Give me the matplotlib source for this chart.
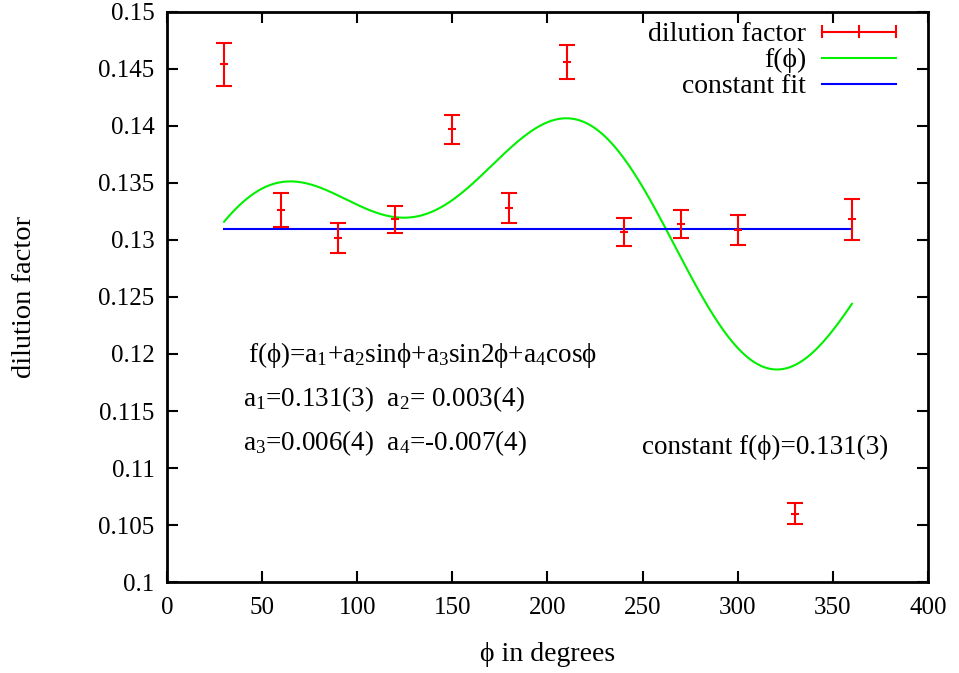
import numpy as np
import matplotlib
matplotlib.use("Agg")
import matplotlib.pyplot as plt
from matplotlib.lines import Line2D
from matplotlib.legend_handler import HandlerBase

plt.rcParams['font.family'] = ['Liberation Serif', 'DejaVu Serif']
plt.rcParams['mathtext.fontset'] = 'custom'
plt.rcParams['mathtext.rm'] = 'Liberation Serif'
plt.rcParams['mathtext.it'] = 'Liberation Serif:italic'

# measured dilution factor per azimuthal bin
phi_deg = [30, 60, 90, 120, 150, 180, 210, 240, 270, 300, 330, 360]
dilution = [0.1454, 0.1326, 0.1302, 0.1318, 0.1397, 0.1328,
            0.1456, 0.1307, 0.1314, 0.1309, 0.1060, 0.1318]
dilution_err = [0.0019, 0.0015, 0.0013, 0.0012, 0.0013, 0.0013,
                0.0015, 0.0012, 0.0012, 0.0013, 0.0009, 0.0018]

# fit parameters: f(phi) = a1 + a2 sin(phi) + a3 sin(2 phi) + a4 cos(phi)
a1, a2, a3, a4 = 0.1312, 0.0027, 0.0057, -0.0068
const_fit = 0.131

x_ticks = [0, 50, 100, 150, 200, 250, 300, 350, 400]
y_ticks = [0.1, 0.105, 0.11, 0.115, 0.12, 0.125, 0.13, 0.135, 0.14, 0.145, 0.15]
y_tick_labels = ['0.1', '0.105', '0.11', '0.115', '0.12', '0.125',
                 '0.13', '0.135', '0.14', '0.145', '0.15']

RED = '#ff0000'
GREEN = '#00f000'
BLUE = '#0000ff'

fig = plt.figure(figsize=(9.59, 6.73), dpi=100)
ax = fig.add_axes([0.1741, 0.1352, 0.9677 - 0.1741, 0.9822 - 0.1352])

ax.errorbar(phi_deg, dilution, yerr=dilution_err, fmt='none', ecolor=RED,
            elinewidth=1.5, capsize=6, capthick=1.5, zorder=3)
ax.plot(phi_deg, dilution, linestyle='none', marker='_', markersize=6,
        markeredgewidth=1.5, color=RED, zorder=3)

phi_fine = np.linspace(phi_deg[0], phi_deg[-1], 400)
rad = np.deg2rad(phi_fine)
f_curve = a1 + a2 * np.sin(rad) + a3 * np.sin(2 * rad) + a4 * np.cos(rad)
ax.plot(phi_fine, f_curve, color=GREEN, lw=1.5, zorder=2)
ax.plot([phi_deg[0], phi_deg[-1]], [const_fit, const_fit], color=BLUE,
        lw=1.5, zorder=2)

ax.set_xlim(0, 400)
ax.set_ylim(0.1, 0.15)
ax.set_xticks(x_ticks)
ax.set_xticklabels([str(t) for t in x_ticks])
ax.set_yticks(y_ticks)
ax.set_yticklabels(y_tick_labels)
ax.tick_params(direction='in', length=8, width=1.5, top=True, right=True,
               labelsize=18, pad=9)
ax.tick_params(axis='x', pad=11)
for s in ax.spines.values():
    s.set_linewidth(2)

ax.set_xlabel('ϕ in degrees', fontsize=20, labelpad=16)
ax.set_ylabel('dilution factor', fontsize=20.5, labelpad=44)


class ErrorbarSample(HandlerBase):
    """Horizontal error-bar key: a line with end caps and a centre tick."""

    def create_artists(self, legend, orig_handle, xdescent, ydescent,
                       width, height, fontsize, trans):
        y = height / 2 - ydescent
        x0, x1 = -xdescent, -xdescent + width
        h = 0.28 * height
        arts = [Line2D([x0, x1], [y, y]),
                Line2D([x0, x0], [y - h, y + h]),
                Line2D([x1, x1], [y - h, y + h]),
                Line2D([(x0 + x1) / 2] * 2, [y - h, y + h])]
        for a in arts:
            a.set_color(RED)
            a.set_linewidth(1.5)
            a.set_transform(trans)
        return arts


err_key = object()
handles = [err_key,
           Line2D([], [], color=GREEN, lw=1.5),
           Line2D([], [], color=BLUE, lw=1.5)]
labels = ['dilution factor', 'f(ϕ)', 'constant fit']
leg = ax.legend(handles, labels, loc='upper right', frameon=False,
                markerfirst=False, fontsize=20, handlelength=2.66,
                handletextpad=0.58, labelspacing=0.02,
                borderaxespad=0.2, bbox_to_anchor=(0.98, 1.012),
                handler_map={err_key: ErrorbarSample()})
for t in leg.get_texts():
    t.set_ha('right')

fs = 19.5
ax.text(42.5, 0.1199, 'f(ϕ)=a$_1$+a$_2$sinϕ+a$_3$sin2ϕ+a$_4$cosϕ',
        fontsize=fs, va='center', ha='left')
ax.text(40, 0.1160, 'a$_1$=0.131(3)  a$_2$= 0.003(4)',
        fontsize=fs, va='center', ha='left')
ax.text(40, 0.1122, 'a$_3$=0.006(4)  a$_4$=-0.007(4)',
        fontsize=fs, va='center', ha='left')
ax.text(249.5, 0.1118, 'constant f(ϕ)=0.131(3)',
        fontsize=fs, va='center', ha='left')

fig.savefig('out.png', dpi=100)
